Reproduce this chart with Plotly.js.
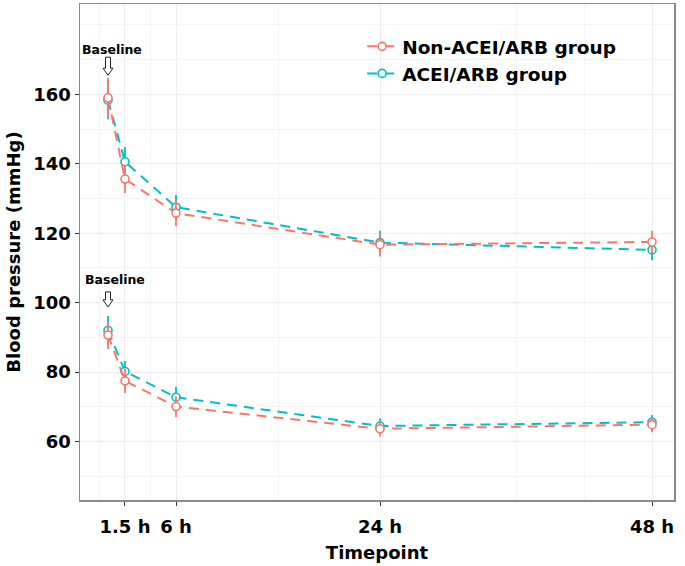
<!DOCTYPE html>
<html>
<head>
<meta charset="utf-8">
<script src="https://cdn.plot.ly/plotly-3.0.1.min.js"></script>
<style>html,body{margin:0;padding:0;background:#fff}#chart{width:685px;height:566px}</style>
</head>
<body>
<div id="chart"></div>
<script>
// Timepoints (hours); 0 = baseline
const timepoints = [0, 1.5, 6, 24, 48];
const xTickVals = [1.5, 6, 24, 48];
const xTickText = ['1.5 h', '6 h', '24 h', '48 h'];
const yTickVals = [60, 80, 100, 120, 140, 160];

// Systolic BP
const sbpNon = [159.0, 135.6, 125.8, 116.7, 117.5];
const sbpNonErr = [5.8, 4.0, 3.7, 3.4, 3.2];
const sbpAcei = [158.3, 140.6, 127.5, 117.3, 115.2];
const sbpAceiErr = [5.5, 4.2, 3.5, 3.4, 3.0];

// Diastolic BP
const dbpNon = [90.7, 77.5, 70.1, 63.7, 64.9];
const dbpNonErr = [4.0, 3.5, 3.0, 2.2, 2.2];
const dbpAcei = [92.0, 80.2, 72.8, 64.5, 65.6];
const dbpAceiErr = [4.2, 3.0, 3.0, 2.2, 2.1];

const groupNames = ['Non-ACEI/ARB group', 'ACEI/ARB group'];
const RED = '#F8766D', TEAL = '#00BFC4';
const FONT = 'DejaVu Sans, Verdana, sans-serif';

function trace(y, err, color, name, rank, show) {
  return {
    x: timepoints, y: y, type: 'scatter', mode: 'lines+markers',
    name: name, legendgroup: name, showlegend: show, legendrank: rank,
    line: {color: color, width: 2, dash: '10px,7px'},
    marker: {symbol: 'circle', size: 8, color: '#ffffff', line: {color: color, width: 1.6}},
    error_y: {type: 'data', array: err, visible: true, color: color, thickness: 1.8, width: 0},
    cliponaxis: false
  };
}

const data = [
  trace(sbpAcei, sbpAceiErr, TEAL, groupNames[1], 2, true),
  trace(dbpAcei, dbpAceiErr, TEAL, groupNames[1], 2, false),
  trace(sbpNon, sbpNonErr, RED, groupNames[0], 1, true),
  trace(dbpNon, dbpNonErr, RED, groupNames[0], 1, false)
];

const arrowPath = (len) => `M0,0 L-5,7 L-2.5,7 L-2.5,${len} L2.5,${len} L2.5,7 L5,7 Z`;

const layout = {
  width: 685, height: 566,
  margin: {l: 80, r: 11, t: 4, b: 66},
  paper_bgcolor: '#ffffff', plot_bgcolor: '#ffffff',
  font: {family: FONT, color: '#000'},
  showlegend: true,
  legend: {
    x: 0.475, y: 0.952, xanchor: 'left', yanchor: 'top',
    bgcolor: 'rgba(0,0,0,0)', itemwidth: 30, tracegroupgap: 0,
    font: {family: FONT, size: 18.5, weight: 'bold', color: '#000'}
  },
  xaxis: {
    range: [-2.47, 49.94],
    tickmode: 'array', tickvals: xTickVals, ticktext: xTickText,
    tickfont: {family: FONT, size: 18, weight: 'bold', color: '#000'},
    ticks: 'outside', ticklen: 4, tickcolor: '#333', tickwidth: 1,
    ticklabelstandoff: 6,
    showgrid: true, gridcolor: '#ededed', gridwidth: 1,
    minor: {tickmode: 'array', tickvals: [-0.75, 3.75, 15, 36, 42], showgrid: true, gridcolor: '#f3f3f3', gridwidth: 0.8, ticks: ''},
    showline: true, linecolor: '#8a8a8a', linewidth: 1.5, mirror: true,
    zeroline: false,
    title: {text: 'Timepoint', font: {family: FONT, size: 18, weight: 'bold', color: '#000'}, standoff: 10}
  },
  yaxis: {
    range: [43.2, 186],
    tickmode: 'array', tickvals: yTickVals,
    tickfont: {family: FONT, size: 18, weight: 'bold', color: '#000'},
    ticks: 'outside', ticklen: 4, tickcolor: '#333', tickwidth: 1,
    showgrid: true, gridcolor: '#ededed', gridwidth: 1,
    minor: {tickmode: 'array', tickvals: [50, 70, 90, 110, 130, 150, 170, 180], showgrid: true, gridcolor: '#f3f3f3', gridwidth: 0.8, ticks: ''},
    showline: true, linecolor: '#8a8a8a', linewidth: 1.5, mirror: true,
    zeroline: false,
    title: {text: 'Blood pressure (mmHg)', font: {family: FONT, size: 18, weight: 'bold', color: '#000'}, standoff: 8}
  },
  annotations: [
    {x: 0, y: 172.9, xref: 'x', yref: 'y', text: 'Baseline', showarrow: false, xshift: 4,
     font: {family: FONT, size: 12.5, weight: 'bold', color: '#000'}},
    {x: 0, y: 106.7, xref: 'x', yref: 'y', text: 'Baseline', showarrow: false, xshift: 7,
     font: {family: FONT, size: 12.5, weight: 'bold', color: '#000'}}
  ],
  shapes: [
    {type: 'path', xref: 'x', yref: 'y', xsizemode: 'pixel', ysizemode: 'pixel',
     xanchor: 0, yanchor: 165.5, path: arrowPath(18),
     fillcolor: '#ffffff', line: {color: '#222', width: 1}},
    {type: 'path', xref: 'x', yref: 'y', xsizemode: 'pixel', ysizemode: 'pixel',
     xanchor: 0, yanchor: 98.8, path: arrowPath(15),
     fillcolor: '#ffffff', line: {color: '#222', width: 1}}
  ]
};

Plotly.newPlot('chart', data, layout, {displayModeBar: false, staticPlot: true});
</script>
</body>
</html>
